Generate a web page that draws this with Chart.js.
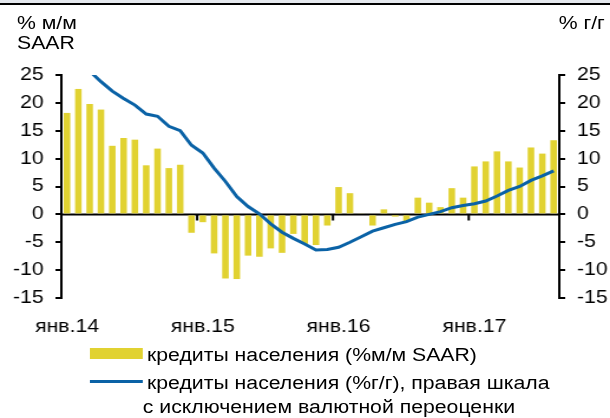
<!DOCTYPE html>
<html>
<head>
<meta charset="utf-8">
<script src="https://cdn.jsdelivr.net/npm/chart.js@4"></script>
<style>
  html, body { margin: 0; padding: 0; background: #fff; overflow: hidden; }
  #page { position: relative; width: 610px; height: 418px; overflow: hidden; }
  /* исходная картинка растянута по горизонтали ~1.18 */
  #wrap { position: absolute; left: 0; top: 0; width: 517px; height: 418px; transform: scaleX(1.1799); transform-origin: 0 0;
          font-family: "Liberation Sans", Arial, sans-serif; color: #000; }
  #wrap canvas { position: absolute; left: 0; top: 0; }
  .txt { position: absolute; font-size: 18px; line-height: 20px; white-space: nowrap; }
  .band { position: absolute; left: 0; width: 610px; }
  .swatch { position: absolute; }
</style>
</head>
<body>
<div id="page">
  <div class="band" style="top:0;height:3px;background:#e4e8ee"></div>
  <div class="band" style="top:3px;height:2px;background:#000"></div>
  <div id="wrap">
    <canvas id="c" width="517" height="418"></canvas>
    <div class="txt" style="left:14.4px;top:13px">% м/м</div>
    <div class="txt" style="left:14.4px;top:33px">SAAR</div>
    <div class="txt" style="left:473.5px;top:13px">% г/г</div>
    <div class="swatch" style="left:76.3px;top:348px;width:45px;height:11px;background:#e1d231"></div>
    <div class="txt" style="left:124.6px;top:345px">кредиты населения (%м/м SAAR)</div>
    <div class="swatch" style="left:76.3px;top:380px;width:45px;height:3px;background:#0a62a6"></div>
    <div class="txt" style="left:124.6px;top:373px">кредиты населения (%г/г), правая шкала</div>
    <div class="txt" style="left:121px;top:397px">с исключением валютной переоценки</div>
  </div>
</div>
<script>
const months = [
  'янв.14','фев.14','мар.14','апр.14','май.14','июн.14','июл.14','авг.14','сен.14','окт.14','ноя.14','дек.14',
  'янв.15','фев.15','мар.15','апр.15','май.15','июн.15','июл.15','авг.15','сен.15','окт.15','ноя.15','дек.15',
  'янв.16','фев.16','мар.16','апр.16','май.16','июн.16','июл.16','авг.16','сен.16','окт.16','ноя.16','дек.16',
  'янв.17','фев.17','мар.17','апр.17','май.17','июн.17','июл.17','авг.17'
];
// % м/м SAAR (левая шкала)
const mmSaar = [
  18.2, 22.5, 19.8, 18.8, 12.3, 13.7, 13.4, 8.8, 11.8, 8.3, 8.9, -3.3,
  -1.4, -7.0, -11.5, -11.6, -7.4, -7.6, -6.1, -6.9, -3.5, -5.3, -5.5, -2.0,
  4.9, 3.8, 0.2, -2.0, 0.9, -0.4, -1.2, 3.0, 2.1, 1.3, 4.7, 3.0,
  8.6, 9.5, 11.3, 9.5, 8.4, 12.0, 10.9, 13.3
];
// % г/г (правая шкала)
const yoy = [
  28.8, 27.3, 25.7, 23.8, 22.1, 20.8, 19.6, 18.0, 17.6, 15.8, 15.0, 12.4,
  11.0, 8.3, 5.9, 3.2, 1.4, 0.1, -1.7, -3.2, -4.3, -5.3, -6.4, -6.3,
  -5.9, -5.0, -4.0, -3.0, -2.4, -1.8, -1.3, -0.5, 0.0, 0.5, 1.2, 1.6,
  1.9, 2.4, 3.3, 4.3, 5.0, 6.1, 6.9, 7.8
];

const FONT = { family: '"Liberation Sans", Arial, sans-serif', size: 18 };

// нулевая линия и засечки на границах лет
const zeroAxis = {
  id: 'zeroAxis',
  beforeDatasetsDraw(chart) {
    const { ctx, chartArea, scales: { x, y } } = chart;
    const y0 = y.getPixelForValue(0);
    ctx.save();
    ctx.strokeStyle = '#000';
    ctx.lineWidth = 2;
    ctx.beginPath();
    ctx.moveTo(chartArea.left, y0);
    ctx.lineTo(chartArea.right, y0);
    months.forEach((m, i) => {
      if (i > 0 && i % 12 === 0) {
        const bx = (x.getPixelForValue(i - 1) + x.getPixelForValue(i)) / 2;
        ctx.moveTo(bx, y0);
        ctx.lineTo(bx, y0 + 6);
      }
    });
    ctx.stroke();
    ctx.restore();
  }
};

new Chart(document.getElementById('c'), {
  data: {
    labels: months,
    datasets: [
      {
        type: 'line',
        data: yoy,
        yAxisID: 'y1',
        borderColor: '#0a62a6',
        borderWidth: 3,
        pointRadius: 0,
        tension: 0,
        order: 0
      },
      {
        type: 'bar',
        data: mmSaar,
        yAxisID: 'y',
        backgroundColor: '#e1d231',
        barPercentage: 0.58,
        categoryPercentage: 1,
        order: 1
      }
    ]
  },
  options: {
    responsive: false,
    animation: false,
    devicePixelRatio: 1,
    layout: { padding: { top: 75, left: 0, right: 0, bottom: 0 } },
    plugins: { legend: { display: false }, tooltip: { enabled: false } },
    scales: {
      x: {
        offset: true,
        grid: { display: false, drawTicks: false },
        border: { display: false },
        ticks: {
          autoSkip: false, maxRotation: 0, color: '#000', font: FONT, padding: 18,
          callback: (v, i) => (i % 12 === 0 ? months[i] : '')
        },
        afterFit: s => { s.height = 120; }
      },
      y: {
        position: 'left', min: -15, max: 25,
        grid: { drawOnChartArea: false, drawTicks: true, tickLength: 5, tickColor: '#000', lineWidth: 2 },
        border: { display: true, color: '#000', width: 2 },
        ticks: { stepSize: 5, color: '#000', font: FONT, padding: 10 },
        afterFit: s => { s.width = 52; }
      },
      y1: {
        position: 'right', min: -15, max: 25,
        grid: { drawOnChartArea: false, drawTicks: true, tickLength: 5, tickColor: '#000', lineWidth: 2 },
        border: { display: true, color: '#000', width: 2 },
        ticks: { stepSize: 5, color: '#000', font: FONT, padding: 10 },
        afterFit: s => { s.width = 43; }
      }
    }
  },
  plugins: [zeroAxis]
});
</script>
</body>
</html>
